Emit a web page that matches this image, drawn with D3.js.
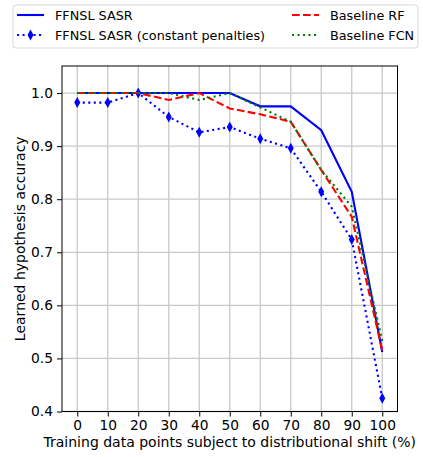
<!DOCTYPE html>
<html><head><meta charset="utf-8">
<script src="https://cdn.jsdelivr.net/npm/d3@7"></script>
<style>body{margin:0;background:#fff}svg{display:block}text{font-family:"DejaVu Sans",sans-serif;fill:#000}</style>
</head><body><svg id="c" width="423" height="457"></svg>
<script>
const shift = [0,10,20,30,40,50,60,70,80,90,100];
const sasr = [1.0,1.0,1.0,1.0,1.0,1.0,0.975,0.975,0.93,0.814,0.512];
const sasrConst = [0.982,0.982,1.0,0.955,0.926,0.936,0.914,0.896,0.814,0.724,0.425];
const rf = [1.0,1.0,1.0,0.987,1.0,0.971,0.96,0.946,0.855,0.767,0.515];
const fcn = [1.0,1.0,1.0,1.0,0.987,1.0,0.973,0.946,0.855,0.786,0.533];
const xTicks = [0,10,20,30,40,50,60,70,80,90,100];
const yTicks = [0.4,0.5,0.6,0.7,0.8,0.9,1.0];
const seriesNames = ["FFNSL SASR","FFNSL SASR (constant penalties)","Baseline RF","Baseline FCN"];

const svg = d3.select("#c");
const L=62,R=397.5,T=66,B=411.5;
const x = d3.scaleLinear().domain([-5,105]).range([L,R]);
const y = d3.scaleLinear().domain([0.4,1.051]).range([B,T]);

// grid
const g = svg.append("g");
g.selectAll(".vx").data(xTicks).enter().append("line")
 .attr("x1",d=>x(d)).attr("x2",d=>x(d)).attr("y1",T).attr("y2",B)
 .attr("stroke","#c8c8c8").attr("stroke-width",1.3);
g.selectAll(".hy").data(yTicks).enter().append("line")
 .attr("x1",L).attr("x2",R).attr("y1",d=>y(d)).attr("y2",d=>y(d))
 .attr("stroke","#c8c8c8").attr("stroke-width",1.3);

const line = d3.line().x((d,i)=>x(shift[i])).y(d=>y(d));
const series = [
 {v:sasr,color:"#0000ff",dash:null},
 {v:sasrConst,color:"#0000ff",dash:"2.1,3.4",marker:true},
 {v:rf,color:"#ff0000",dash:"7.7,3.3"},
 {v:fcn,color:"#008000",dash:"2.1,3.4"}
];
const clip = svg.append("clipPath").attr("id","cp").append("rect").attr("x",L).attr("y",T).attr("width",R-L).attr("height",B-T);
const pg = svg.append("g").attr("clip-path","url(#cp)");
const diamond = "M0,-5.5L3,0L0,5.5L-3,0Z";
series.forEach(s=>{
  pg.append("path").attr("d",line(s.v)).attr("fill","none").attr("stroke",s.color)
   .attr("stroke-width",2.1).attr("stroke-dasharray",s.dash);
  if(s.marker){
    pg.selectAll(null).data(s.v).enter().append("path").attr("d",diamond)
     .attr("transform",(d,i)=>`translate(${x(shift[i])},${y(d)})`).attr("fill",s.color);
  }
});

// axes
const xa = svg.append("g").attr("transform",`translate(0,${B})`)
 .call(d3.axisBottom(x).tickValues(xTicks).tickSize(5).tickPadding(4).tickFormat(d3.format("d")));
const ya = svg.append("g").attr("transform",`translate(${L},0)`)
 .call(d3.axisLeft(y).tickValues(yTicks).tickSize(5).tickPadding(4).tickFormat(d3.format(".1f")));
[xa,ya].forEach(a=>{a.select(".domain").remove();a.selectAll("text").attr("font-size",13.8).attr("font-family","DejaVu Sans");a.selectAll("line").attr("stroke","#000").attr("stroke-width",1);});
svg.append("rect").attr("x",L).attr("y",T).attr("width",R-L).attr("height",B-T).attr("fill","none").attr("stroke","#000").attr("stroke-width",1);

svg.append("text").attr("x",(L+R)/2).attr("y",447).attr("text-anchor","middle").attr("font-size",14)
 .text("Training data points subject to distributional shift (%)");
svg.append("text").attr("transform",`translate(25,${(T+B)/2}) rotate(-90)`).attr("text-anchor","middle").attr("font-size",14)
 .text("Learned hypothesis accuracy");

// legend
const lg = svg.append("g");
lg.append("rect").attr("x",13).attr("y",5).attr("width",405).attr("height",43).attr("rx",3)
 .attr("fill","#fff").attr("fill-opacity",0.8).attr("stroke","#d9d9d9").attr("stroke-width",1);
const pos = [[17,15],[17,35],[292,15],[292,35]];
series.forEach((s,i)=>{
  const [lx,ly]=pos[i];
  lg.append("line").attr("x1",lx).attr("x2",lx+27).attr("y1",ly).attr("y2",ly).attr("stroke",s.color)
   .attr("stroke-width",2.1).attr("stroke-dasharray",s.dash);
  if(s.marker) lg.append("path").attr("d",diamond).attr("transform",`translate(${lx+13.5},${ly})`).attr("fill",s.color);
  lg.append("text").attr("x",lx+38).attr("y",ly+4.5).attr("font-size",12.8).text(seriesNames[i]);
});
</script></body></html>
